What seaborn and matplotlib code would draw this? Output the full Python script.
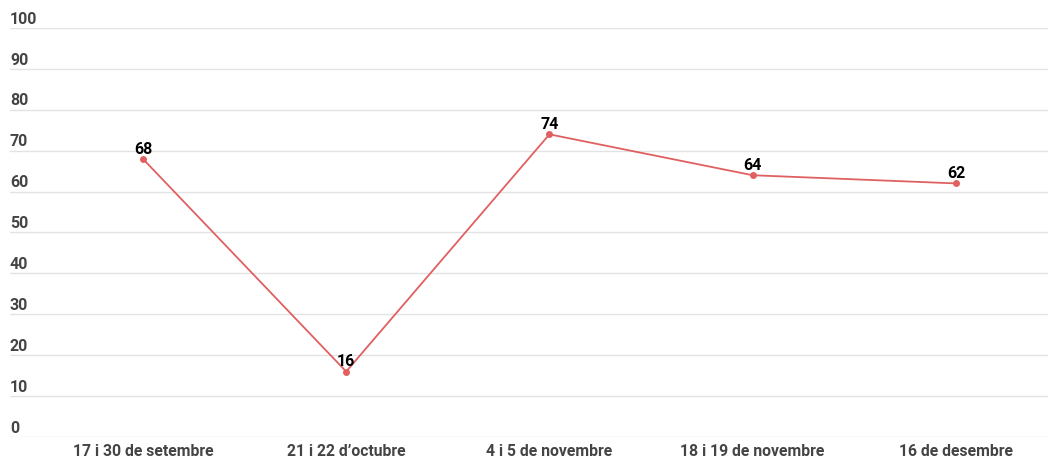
import matplotlib
matplotlib.use("Agg")
import matplotlib.pyplot as plt
import matplotlib.transforms as mtransforms
import seaborn as sns
import pandas as pd

categories = ["17 i 30 de setembre", "21 i 22 d\u2019octubre", "4 i 5 de novembre",
              "18 i 19 de novembre", "16 de desembre"]
values = [68, 16, 74, 64, 62]
yticks = [0, 10, 20, 30, 40, 50, 60, 70, 80, 90, 100]

sns.set_theme(style="white")
plt.rcParams['font.family'] = ['Roboto', 'DejaVu Sans']

W, H = 1048, 458
fig = plt.figure(figsize=(W / 100, H / 100), dpi=100)
ax = fig.add_axes([10 / W, (H - 437) / H, (1048 - 10) / W, (437 - 28) / H])

df = pd.DataFrame({"cat": categories, "val": values})
df["x"] = range(len(categories))

sns.lineplot(data=df, x="x", y="val", ax=ax, color="#e06060", linewidth=1.3,
             marker="o", markersize=5, markeredgewidth=0, sort=False)

ax.set_xlim(-0.654, 4.453)
ax.set_ylim(0, 100)

for s in ax.spines.values():
    s.set_visible(False)

trans = mtransforms.blended_transform_factory(ax.transAxes, ax.transData)
for t in yticks:
    ax.axhline(t, color="#e3e3e3", linewidth=1, zorder=0)
    ax.annotate(str(t), (0.0, t), xycoords=trans, xytext=(0, 1), textcoords="offset points",
                ha="left", va="bottom", fontsize=11.5, color="#444444", fontweight="semibold")
ax.set_yticks([])
ax.set_ylabel("")
ax.set_xlabel("")

ax.set_xticks(list(df["x"]))
ax.set_xticklabels(categories, fontsize=11.3, color="#444444", fontweight="semibold")
ax.tick_params(axis="x", length=0, pad=5)

for xi, v in zip(df["x"], values):
    ax.annotate(str(v), (xi, v), xytext=(0, 1.5), textcoords="offset points",
                ha="center", va="bottom", fontsize=11.5, color="black", fontweight="bold")

fig.savefig("out.png", dpi=100)
